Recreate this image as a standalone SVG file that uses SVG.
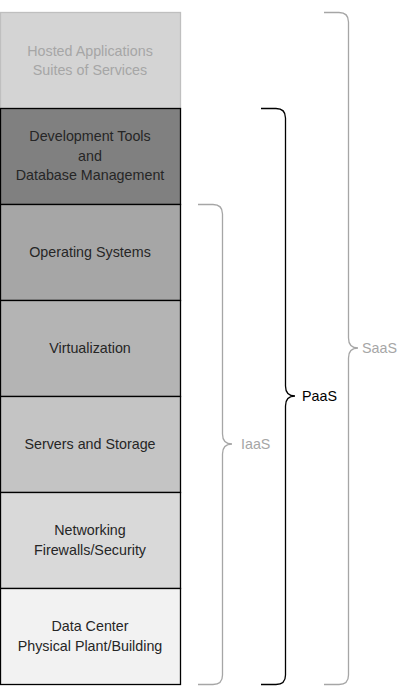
<svg xmlns="http://www.w3.org/2000/svg" width="402" height="696" viewBox="0 0 402 696">
<style>
.t{font-family:"Liberation Sans",Arial,sans-serif;font-size:14.3px;text-anchor:middle;fill:#262626}
.g{fill:#a6a6a6}
.lbl{font-family:"Liberation Sans",Arial,sans-serif;font-size:14.3px}
.box{stroke:#000;stroke-width:1.3}
.br{fill:none;stroke-width:1.3}
</style>
<rect width="402" height="696" fill="#fff"/>
<g id="saas-apps"><rect x="0.5" y="12.5" width="180" height="96" fill="#d4d4d4" stroke="#bfbfbf" stroke-width="1.3"/><text class="t g" x="90" y="55.5">Hosted Applications</text><text class="t g" x="90" y="75">Suites of Services</text></g>
<g id="dev-tools"><rect class="box" x="0.5" y="108.5" width="180" height="96" fill="#808080"/><text class="t" x="90" y="141">Development Tools</text><text class="t" x="90" y="160.5">and</text><text class="t" x="90" y="180">Database Management</text></g>
<g id="os"><rect class="box" x="0.5" y="204.5" width="180" height="96" fill="#a6a6a6"/><text class="t" x="90" y="257">Operating Systems</text></g>
<g id="virtualization"><rect class="box" x="0.5" y="300.5" width="180" height="96" fill="#b4b4b4"/><text class="t" x="90" y="353">Virtualization</text></g>
<g id="servers"><rect class="box" x="0.5" y="396.5" width="180" height="96" fill="#c4c4c4"/><text class="t" x="90" y="449">Servers and Storage</text></g>
<g id="networking"><rect class="box" x="0.5" y="492.5" width="180" height="96" fill="#d9d9d9"/><text class="t" x="90" y="535">Networking</text><text class="t" x="90" y="555">Firewalls/Security</text></g>
<g id="datacenter"><rect class="box" x="0.5" y="588.5" width="180" height="96" fill="#f2f2f2"/><text class="t" x="90" y="631">Data Center</text><text class="t" x="90" y="651">Physical Plant/Building</text></g>
<g id="connectors">
<path class="br" stroke="#a6a6a6" d="M198,204.5 H213 Q222.5,204.5 222.5,214 V434 Q222.5,444 232,444 Q222.5,444 222.5,454 V675 Q222.5,684.5 213,684.5 H198"/>
<path class="br" stroke="#000" d="M261,108.5 H276 Q285.5,108.5 285.5,118 V386 Q285.5,396 295,396 Q285.5,396 285.5,406 V675 Q285.5,684.5 276,684.5 H261"/>
<path class="br" stroke="#a6a6a6" d="M324,12.5 H339 Q348.5,12.5 348.5,22 V338 Q348.5,348 358,348 Q348.5,348 348.5,358 V675 Q348.5,684.5 339,684.5 H324"/>
</g>
<g id="iaas"><text class="lbl" x="241" y="449" fill="#a6a6a6">IaaS</text></g>
<g id="paas"><text class="lbl" x="302" y="401" fill="#000">PaaS</text></g>
<g id="saas"><text class="lbl" x="362" y="353" fill="#a6a6a6">SaaS</text></g>
</svg>
